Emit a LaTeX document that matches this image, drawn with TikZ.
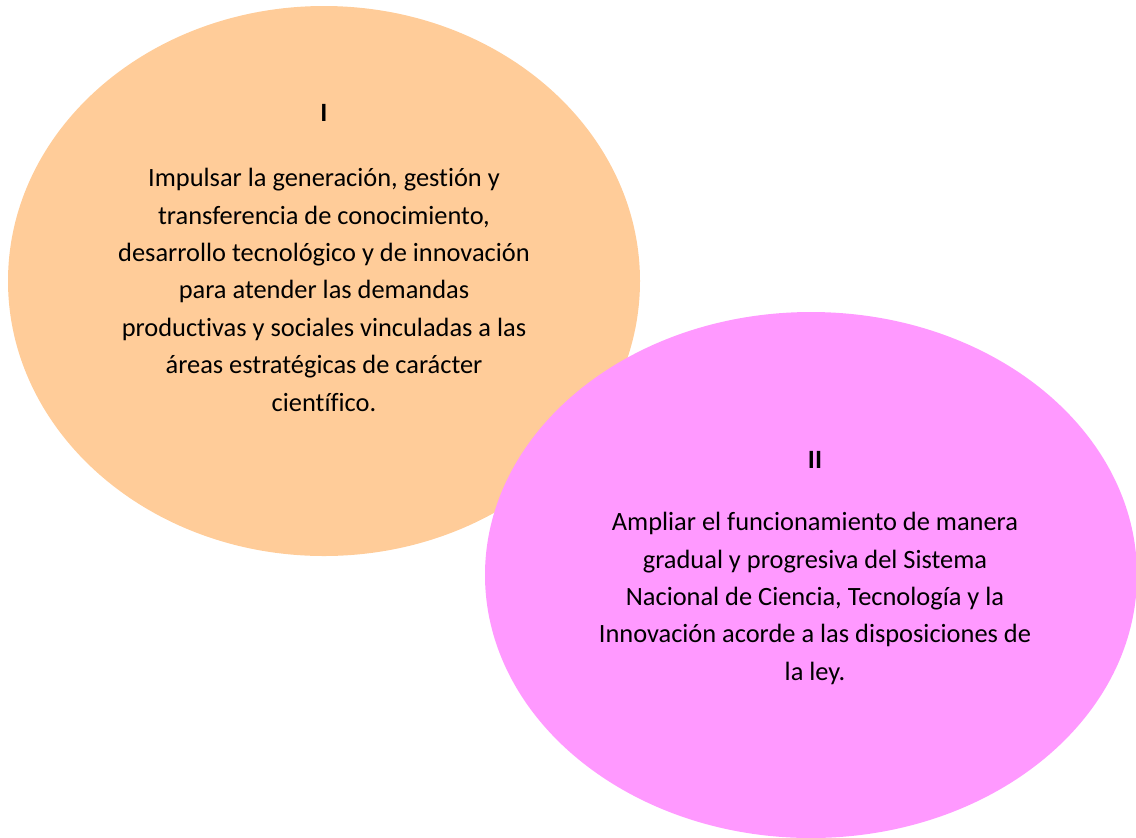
\documentclass[tikz,border=0pt]{standalone}
\usepackage{fontspec}
\setmainfont{Carlito}[Ligatures=NoCommon]
\usetikzlibrary{shapes.geometric, positioning}
\definecolor{peach}{RGB}{255,204,153}
\definecolor{orchid}{RGB}{255,153,255}
\tikzset{
    blob/.style={ellipse, inner sep=0pt, draw=none},
    blobtext/.style={align=center, font=\fontsize{13.2}{18.7}\selectfont}
}

\begin{document}
\begin{tikzpicture}[x=0.5pt, y=-0.5pt]
        \useasboundingbox (0, 0) rectangle (1136, 837);
        \node[blob, fill=peach, minimum width=316pt, minimum height=275pt]
            (objI) at (324, 281) {};
        \node[blob, fill=orchid, minimum width=326pt, minimum height=263pt]
            (objII) at (811, 575) {};
        \node[blobtext] (txtI) at (324, 258) {\textbf{I}\\[13.8pt]
            Impulsar la generación, gestión y\\
            transferencia de conocimiento,\\
            desarrollo tecnológico y de innovación\\
            para atender las demandas\\
            productivas y sociales vinculadas a las\\
            áreas estratégicas de carácter\\
            científico.};
        \node[blobtext] (txtII) at (815, 568) {\textbf{II}\\[12.4pt]
            Ampliar el funcionamiento de manera\\
            gradual y progresiva del Sistema\\
            Nacional de Ciencia, Tecnología y la\\
            Innovación acorde a las disposiciones de\\
            la ley.};
    \end{tikzpicture}
\end{document}
